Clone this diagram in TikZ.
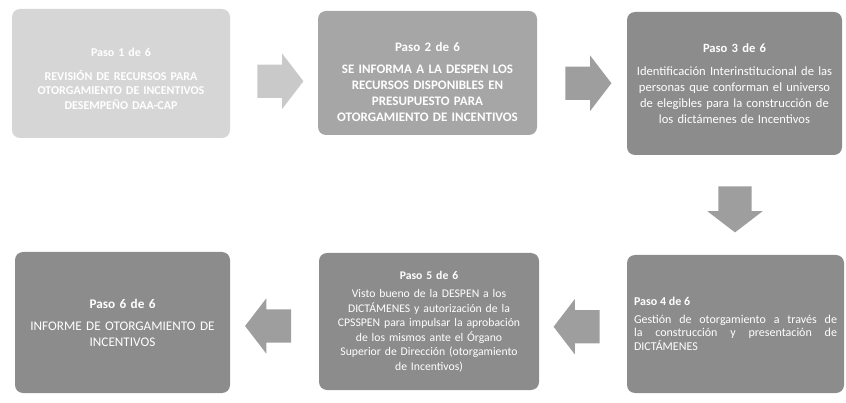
\documentclass[tikz,border=0pt]{standalone}
\usepackage{fontspec}
\setmainfont{Carlito}
\usepackage{tikz}
\usetikzlibrary{shapes.arrows, calc}
\usepackage{xcolor}

\definecolor{grisA}{gray}{0.84}
\definecolor{grisB}{gray}{0.65}
\definecolor{grisC}{gray}{0.55}
\definecolor{flechaA}{gray}{0.79}
\definecolor{flechaB}{gray}{0.62}

\begin{document}
\begin{tikzpicture}[x=1pt, y=-1pt,
    pasobox/.style={rounded corners=8pt, text=white, inner sep=0pt, align=center,
        text width=208pt, font=\fontsize{12}{16}\selectfont},
    blockarrow/.style={single arrow, minimum height=46pt, inner xsep=0pt, inner ysep=16.5pt,
        single arrow head extend=11pt, single arrow tip angle=105, fill=flechaB}]
    \useasboundingbox (0,0) rectangle (846,403);

    % Fila de arriba
    \node[pasobox, fill=grisA, minimum width=218pt, minimum height=129pt,
          font=\fontsize{12}{14.5}\selectfont] (p1) at (121,73.5)
        {\rule{0pt}{19pt}\textbf{Paso 1 de 6}\\[9pt]\textbf{REVISIÓN DE RECURSOS PARA}\\\textbf{OTORGAMIENTO DE INCENTIVOS}\\\textbf{DESEMPEÑO DAA-CAP}};
    \node[pasobox, fill=grisB, minimum width=219pt, minimum height=124pt,
          font=\fontsize{13}{16}\selectfont] (p2) at (427.5,73)
        {\rule{0pt}{27pt}\textbf{Paso 2 de 6}\\[6pt]\textbf{SE INFORMA A LA DESPEN LOS}\\\textbf{RECURSOS DISPONIBLES EN}\\\textbf{PRESUPUESTO PARA}\\\textbf{OTORGAMIENTO DE INCENTIVOS}};
    \node[pasobox, fill=grisC, minimum width=215pt, minimum height=143pt,
          font=\fontsize{12.6}{16}\selectfont] (p3) at (734.5,83.5)
        {\textbf{Paso 3 de 6}\\[7pt]Identificación Interinstitucional de las\\personas que conforman el universo\\de elegibles para la construcción de\\los dictámenes de Incentivos};

    % Fila de abajo
    \node[pasobox, fill=grisC, minimum width=217pt, minimum height=138pt, align=justify,
          text width=203pt, font=\fontsize{12}{13.5}\selectfont] (p4) at (735.5,324)
        {\textbf{Paso 4 de 6}\\[4pt]Gestión de otorgamiento a través de\linebreak la construcción y presentación de\linebreak DICTÁMENES};
    \node[pasobox, fill=grisC, minimum width=220pt, minimum height=137pt, text width=214pt,
          font=\fontsize{11.7}{14.5}\selectfont] (p5) at (429,321.5)
        {\textbf{Paso 5 de 6}\\[4pt]Visto bueno de la DESPEN a los\\DICTÁMENES y autorización de la\\CPSSPEN para impulsar la aprobación\\de los mismos ante el Órgano\\Superior de Dirección (otorgamiento\\de Incentivos)};
    \node[pasobox, fill=grisC, minimum width=215pt, minimum height=141pt,
          font=\fontsize{13.2}{16}\selectfont] (p6) at (122.5,322.5)
        {\textbf{Paso 6 de 6}\\[6pt]INFORME DE OTORGAMIENTO DE\\INCENTIVOS};

    % Flechas
    \node[blockarrow, fill=flechaA, yshift=-8pt] (f12) at ($(p1.east)!0.5!(p2.west)$) {};
    \node[blockarrow, yshift=-5pt] (f23) at ($(p2.east)!0.5!(p3.west)$) {};
    \node[blockarrow, yshift=2pt, rotate=-90] (f34) at ($(p3.south)!0.5!(p4.north)$) {};
    \node[blockarrow, yshift=-4pt, rotate=180] (f45) at ($(p4.west)!0.5!(p5.east)$) {};
    \node[blockarrow, yshift=-4pt, rotate=180] (f56) at ($(p5.west)!0.5!(p6.east)$) {};
\end{tikzpicture}
\end{document}
